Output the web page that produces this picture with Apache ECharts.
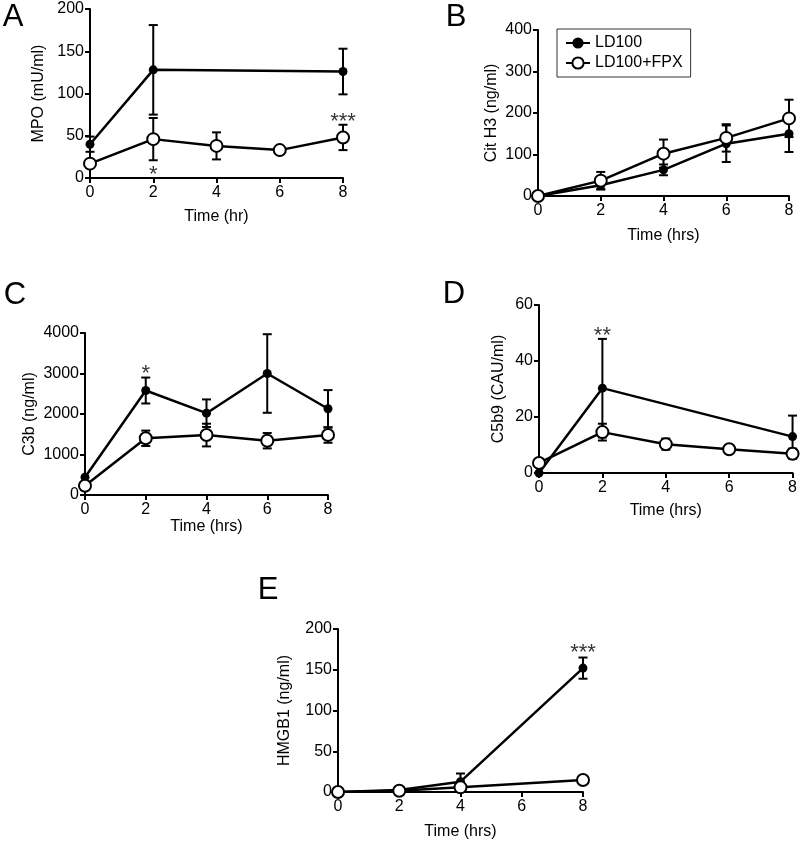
<!DOCTYPE html>
<html>
<head>
<meta charset="utf-8">
<script src="https://cdn.jsdelivr.net/npm/echarts@6/dist/echarts.min.js"></script>
<style>
html, body { margin: 0; padding: 0; background: #fff; }
#main { width: 800px; height: 843px; }
</style>
</head>
<body>
<div id="main"></div>
<script>
var hours = [0, 2, 4, 6, 8];

// A - MPO
var mpoTimeLD = [0, 2, 8];
var mpoLD = [40, 128, 126];
var mpoLDErr = [9, 53, 27];
var mpoFPX = [17, 46, 38, 33, 48];
var mpoFPXErr = [0, 25, 16, 2, 15];
var mpoSig = [[2, 4, '*'], [8, 66, '***']];

// B - Cit H3
var h3LD = [0, 26, 63, 126, 150];
var h3LDErr = [0, 10, 13, 44, 44];
var h3FPX = [0, 37, 102, 140, 187];
var h3FPXErr = [0, 21, 34, 33, 45];

// C - C3b
var c3bLD = [440, 2580, 2020, 3000, 2130];
var c3bLDErr = [0, 320, 340, 970, 460];
var c3bFPX = [230, 1400, 1480, 1340, 1480];
var c3bFPXErr = [0, 190, 280, 190, 190];
var c3bSig = [[2, 3000, '*'], [6, 4080, '**']];

// D - C5b9
var c5b9TimeLD = [0, 2, 8];
var c5b9LD = [0, 30.3, 13];
var c5b9LDErr = [0, 17.6, 7.5];
var c5b9FPX = [3.6, 14.6, 10.3, 8.5, 6.9];
var c5b9FPXErr = [0, 3, 2, 1.3, 1.8];
var c5b9Sig = [[2, 49, '**']];

// E - HMGB1
var hmgbTime = [0, 2, 4, 8];
var hmgbLD = [0, 2.5, 12.7, 152];
var hmgbLDErr = [0, 0, 10, 13];
var hmgbFPX = [0, 1.5, 5.7, 14.7];
var hmgbFPXErr = [0, 0, 0, 4];
var hmgbSig = [[8, 171, '***']];

var FONT = 'Liberation Sans, Arial, sans-serif';

var panels = [
    {grid: {left: 90, top: 9, width: 253, height: 169}, yMax: 200, yInt: 50, yName: 'MPO (mU/ml)', yGap: 43,
        xName: 'Time (hr)', xGap: 31, ld: [mpoTimeLD, mpoLD, mpoLDErr], fpx: [hours, mpoFPX, mpoFPXErr], sig: mpoSig},
    {grid: {left: 538, top: 30, width: 251, height: 166}, yMax: 400, yInt: 100, yName: 'Cit H3 (ng/ml)', yGap: 38,
        xName: 'Time (hrs)', xGap: 32, ld: [hours, h3LD, h3LDErr], fpx: [hours, h3FPX, h3FPXErr], sig: []},
    {grid: {left: 85, top: 333, width: 243, height: 162}, yMax: 4000, yInt: 1000, yName: 'C3b (ng/ml)', yGap: 47,
        xName: 'Time (hrs)', xGap: 24, ld: [hours, c3bLD, c3bLDErr], fpx: [hours, c3bFPX, c3bFPXErr], sig: c3bSig},
    {grid: {left: 539, top: 305, width: 254, height: 168}, yMax: 60, yInt: 20, yName: 'C5b9 (CAU/ml)', yGap: 32,
        xName: 'Time (hrs)', xGap: 30, ld: [c5b9TimeLD, c5b9LD, c5b9LDErr], fpx: [hours, c5b9FPX, c5b9FPXErr], sig: c5b9Sig},
    {grid: {left: 338, top: 629, width: 245, height: 163}, yMax: 200, yInt: 50, yName: 'HMGB1 (ng/ml)', yGap: 45,
        xName: 'Time (hrs)', xGap: 32, ld: [hmgbTime, hmgbLD, hmgbLDErr], fpx: [hmgbTime, hmgbFPX, hmgbFPXErr], sig: hmgbSig}
];

function drawErr(params, api) {
    var x = api.value(0);
    var lo = api.coord([x, api.value(1)]);
    var hi = api.coord([x, api.value(2)]);
    var w = 4.5;
    var st = {stroke: '#000', lineWidth: 2};
    if (Math.abs(hi[1] - lo[1]) < 0.5) return {type: 'group', children: []};
    return {type: 'group', children: [
        {type: 'line', shape: {x1: lo[0], y1: lo[1], x2: hi[0], y2: hi[1]}, style: st},
        {type: 'line', shape: {x1: hi[0] - w, y1: hi[1], x2: hi[0] + w, y2: hi[1]}, style: st},
        {type: 'line', shape: {x1: lo[0] - w, y1: lo[1], x2: lo[0] + w, y2: lo[1]}, style: st}
    ]};
}

function pairs(xs, ys) {
    return xs.map(function (x, k) { return [x, ys[k]]; });
}
function errData(xs, ys, es) {
    return xs.map(function (x, k) { return [x, Math.max(0, ys[k] - es[k]), ys[k] + es[k]]; });
}

var axisCommon = {
    axisLine: {show: true, onZero: false, lineStyle: {color: '#000', width: 2}},
    axisTick: {show: true, length: 5, lineStyle: {color: '#000', width: 2}},
    splitLine: {show: false},
    axisLabel: {color: '#000', fontSize: 16, fontFamily: FONT, formatter: function (v) { return String(v); }},
    nameTextStyle: {color: '#000', fontSize: 16, fontFamily: FONT},
    nameLocation: 'middle'
};

var grids = [], xAxes = [], yAxes = [], series = [];
panels.forEach(function (p, i) {
    grids.push(p.grid);
    xAxes.push(Object.assign({}, axisCommon, {
        gridIndex: i, type: 'value', min: 0, max: 8, interval: 2,
        name: p.xName, nameGap: p.xGap,
        axisLabel: Object.assign({}, axisCommon.axisLabel, {margin: 7})
    }));
    yAxes.push(Object.assign({}, axisCommon, {
        gridIndex: i, type: 'value', min: 0, max: p.yMax, interval: p.yInt,
        name: p.yName, nameGap: p.yGap,
        axisLabel: Object.assign({}, axisCommon.axisLabel, {margin: 6})
    }));
    series.push({
        type: 'custom', xAxisIndex: i, yAxisIndex: i, renderItem: drawErr, z: 2,
        encode: {x: 0, y: [1, 2]}, data: errData(p.ld[0], p.ld[1], p.ld[2])
    });
    series.push({
        type: 'custom', xAxisIndex: i, yAxisIndex: i, renderItem: drawErr, z: 2,
        encode: {x: 0, y: [1, 2]}, data: errData(p.fpx[0], p.fpx[1], p.fpx[2])
    });
    series.push({
        name: 'LD100', type: 'line', xAxisIndex: i, yAxisIndex: i, z: 3,
        data: pairs(p.ld[0], p.ld[1]),
        symbol: 'circle', symbolSize: 9,
        itemStyle: {color: '#000'},
        lineStyle: {color: '#000', width: 2.5}
    });
    series.push({
        name: 'LD100+FPX', type: 'line', xAxisIndex: i, yAxisIndex: i, z: 4,
        data: pairs(p.fpx[0], p.fpx[1]),
        symbol: 'circle', symbolSize: 12,
        itemStyle: {color: '#fff', borderColor: '#000', borderWidth: 2},
        lineStyle: {color: '#000', width: 2.5}
    });
    if (p.sig.length) {
        series.push({
            type: 'scatter', xAxisIndex: i, yAxisIndex: i, z: 5,
            symbolSize: 1, itemStyle: {color: 'rgba(0,0,0,0)'},
            data: p.sig.map(function (s) { return {value: [s[0], s[1]], label: {formatter: s[2]}}; }),
            label: {show: true, position: 'inside', color: '#000', fontSize: 22, fontFamily: FONT}
        });
    }
});

var letters = [['A', 13, 17], ['B', 456, 17], ['C', 15, 295], ['D', 454, 294], ['E', 268, 590]];

var option = {
    animation: false,
    backgroundColor: '#fff',
    grid: grids,
    xAxis: xAxes,
    yAxis: yAxes,
    legend: {
        data: ['LD100', 'LD100+FPX'],
        left: 557, top: 29,
        orient: 'vertical',
        borderColor: '#333', borderWidth: 1,
        padding: [6, 8, 6, 8],
        itemGap: 4, itemWidth: 24, itemHeight: 14,
        textStyle: {color: '#000', fontSize: 16, fontFamily: FONT}
    },
    graphic: letters.map(function (l) {
        return {type: 'text', x: l[1], y: l[2],
            style: {text: l[0], fill: '#000', fontSize: 31, fontFamily: FONT, align: 'center', verticalAlign: 'middle'}};
    }),
    series: series
};

var chart = echarts.init(document.getElementById('main'));
chart.setOption(option);
</script>
</body>
</html>
